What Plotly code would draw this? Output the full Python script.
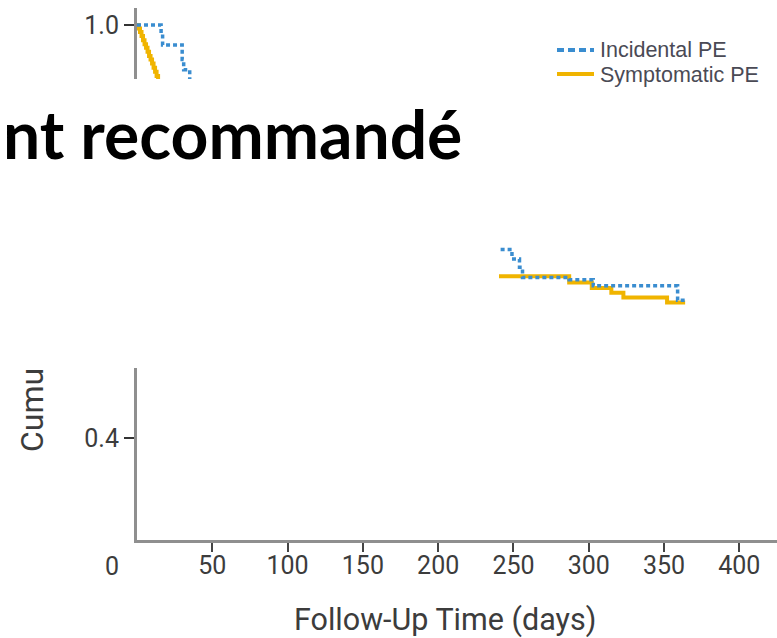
import plotly.graph_objects as go

# ---- data ----
inc_days = [0, 16, 17, 30, 31, 35, 45, 60, 80, 100, 125, 150, 180, 210, 235, 249, 254, 256, 287, 303, 359, 364]
inc_surv = [1.0, 0.988, 0.971, 0.95, 0.935, 0.912, 0.90, 0.87, 0.83, 0.79, 0.76, 0.73, 0.71, 0.69, 0.674,
            0.66, 0.648, 0.633, 0.630, 0.621, 0.600, 0.600]

sym_days = [0, 1, 2, 3, 4, 5, 6, 7, 8, 9, 10, 11, 12, 13, 14, 20, 30, 45, 60, 80, 100, 130, 160, 190, 220,
            287, 302, 315, 323, 352, 364]
sym_surv = [1.0, 0.995, 0.99, 0.984, 0.978, 0.972, 0.967, 0.961, 0.955, 0.95, 0.944, 0.938, 0.932, 0.926,
            0.915, 0.90, 0.87, 0.83, 0.79, 0.75, 0.72, 0.69, 0.665, 0.65, 0.635, 0.626, 0.618, 0.611,
            0.604, 0.597, 0.597]

series_names = ["Incidental PE", "Symptomatic PE"]
x_ticks = [50, 100, 150, 200, 250, 300, 350, 400]
y_ticks = [0.4, 1.0]
y_ticktext = ["0.4", "1.0"]

# ---- geometry ----
W, H = 777, 638
L, T, R, B = 137, 8, 0, 98
PW, PH = W - L - R, H - T - B


def xp(px):
    return (px - L) / PW


def yp(py):
    return (T + PH - py) / PH


TXT = "#3c3c3c"
BLUE, GOLD = "#3a8dd0", "#f0b400"

fig = go.Figure()
fig.add_trace(go.Scatter(x=sym_days, y=sym_surv, mode="lines", name=series_names[1],
                         line=dict(color=GOLD, width=4, shape="hv"), showlegend=False))
fig.add_trace(go.Scatter(x=inc_days, y=inc_surv, mode="lines", name=series_names[0],
                         line=dict(color=BLUE, width=3.5, shape="hv", dash="4px,3px"), showlegend=False))

shapes = [
    dict(type="rect", xref="paper", yref="paper", x0=xp(-10), x1=xp(800), y0=yp(243), y1=yp(79),
         fillcolor="white", line=dict(width=0), layer="above"),
    dict(type="rect", xref="paper", yref="paper", x0=xp(-10), x1=xp(499), y0=yp(368), y1=yp(243),
         fillcolor="white", line=dict(width=0), layer="above"),
    # legend keys
    dict(type="line", xref="paper", yref="paper", x0=xp(557), x1=xp(594), y0=yp(50), y1=yp(50),
         line=dict(color=BLUE, width=4, dash="7px,4px"), layer="above"),
    dict(type="line", xref="paper", yref="paper", x0=xp(557), x1=xp(594), y0=yp(74), y1=yp(74),
         line=dict(color=GOLD, width=4), layer="above"),
]

annotations = [
    dict(text="nt recommandé", xref="paper", yref="paper", x=xp(464), y=yp(133), xanchor="right",
         yanchor="middle", showarrow=False, font=dict(family="Lato", size=66, color="black", weight="bold")),
    dict(text="0", xref="paper", yref="paper", x=xp(111.5), y=yp(566), xanchor="center", yanchor="middle",
         showarrow=False, font=dict(family="Roboto", size=25, color=TXT)),
    dict(text="Cumu", xref="paper", yref="paper", x=xp(32), y=yp(410), xanchor="center", yanchor="middle",
         textangle=-90, showarrow=False, font=dict(family="Roboto", size=32, color=TXT)),
    dict(text="Follow-Up Time (days)", xref="paper", yref="paper", x=xp(445), y=yp(620), xanchor="center",
         yanchor="middle", showarrow=False, font=dict(family="Roboto", size=30.5, color=TXT)),
    dict(text=series_names[0], xref="paper", yref="paper", x=xp(598), y=yp(50), xanchor="left",
         yanchor="middle", showarrow=False, font=dict(family="Liberation Sans", size=21.5, color="#4a4a55")),
    dict(text=series_names[1], xref="paper", yref="paper", x=xp(598), y=yp(75), xanchor="left",
         yanchor="middle", showarrow=False, font=dict(family="Liberation Sans", size=21.5, color="#4a4a55")),
]

fig.update_layout(
    width=W, height=H, margin=dict(l=L, r=R, t=T, b=B),
    paper_bgcolor="white", plot_bgcolor="white", showlegend=False,
    shapes=shapes, annotations=annotations,
    xaxis=dict(range=[0, 425], showgrid=False, zeroline=False, showline=True, linecolor="#8f8f8f",
               linewidth=3, ticks="outside", tickvals=x_ticks, tickcolor="#444", tickwidth=2, ticklen=9,
               ticklabelstandoff=-8, tickfont=dict(family="Roboto", size=25, color=TXT)),
    yaxis=dict(range=[0.2518, 1.0247], showgrid=False, zeroline=False, showline=True, linecolor="#8f8f8f",
               linewidth=3, ticks="outside", tickvals=y_ticks, ticktext=y_ticktext, tickcolor="#333",
               tickwidth=2, ticklen=10, tickfont=dict(family="Roboto", size=25, color=TXT)),
)

fig.write_html("out.html")
